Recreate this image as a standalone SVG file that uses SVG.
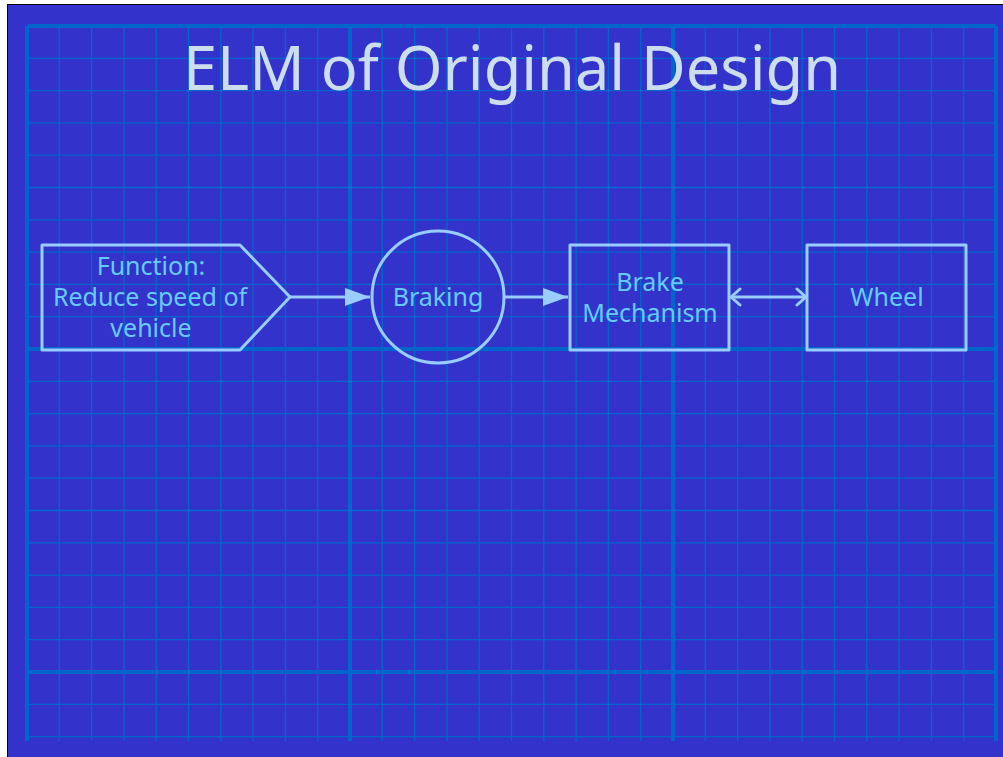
<svg xmlns="http://www.w3.org/2000/svg" width="1003" height="757" viewBox="0 0 1003 757">
<style>
.bg{fill:#3333CC;stroke:#000;stroke-width:1}
.thin{stroke:#0066CC;stroke-width:1.3;fill:none}
.thick{stroke:#0066CC;stroke-width:4;fill:none}
.shape{fill:none;stroke:#99CCFF;stroke-width:3;stroke-linejoin:round}
.conn{stroke:#99CCFF;stroke-width:3;fill:none}
.lbl{font-family:"Noto Sans",sans-serif;font-size:25px;fill:#66CCFF;text-anchor:middle}
.title{font-family:"Noto Sans",sans-serif;font-size:62px;fill:#CCDDEE;text-anchor:middle}
</style>
<defs>
<marker id="fillArrow" markerUnits="userSpaceOnUse" markerWidth="26" markerHeight="18" refX="25" refY="9" orient="auto">
<path d="M0,0 L25,9 L0,18 Z" fill="#99CCFF"/>
</marker>
<marker id="openArrow" markerUnits="userSpaceOnUse" markerWidth="14" markerHeight="20" refX="11" refY="10" orient="auto-start-reverse">
<path d="M2,2 L11,10 L2,18" fill="none" stroke="#99CCFF" stroke-width="3" stroke-linecap="round" stroke-linejoin="round"/>
</marker>
</defs>
<rect x="7.5" y="4.5" width="1000" height="760" class="bg"/>
<g id="grid">
<path class="thin" d="M59.3,26V741M91.6,26V741M123.9,26V741M156.2,26V741M188.5,26V741M220.8,26V741M253.1,26V741M285.4,26V741M317.7,26V741M382.3,26V741M414.6,26V741M446.9,26V741M479.2,26V741M511.5,26V741M543.8,26V741M576.1,26V741M608.4,26V741M640.7,26V741M705.3,26V741M737.6,26V741M769.9,26V741M802.2,26V741M834.5,26V741M866.8,26V741M899.1,26V741M931.4,26V741M963.7,26V741"/>
<path class="thin" d="M27,58.3H996M27,90.6H996M27,122.9H996M27,155.2H996M27,187.5H996M27,219.8H996M27,252.1H996M27,284.4H996M27,316.7H996M27,381.3H996M27,413.6H996M27,445.9H996M27,478.2H996M27,510.5H996M27,542.8H996M27,575.1H996M27,607.4H996M27,639.7H996M27,704.3H996M27,736.6H996"/>
<path class="thick" d="M27,26V741M350,26V741M673,26V741M996,26V741M27,26H996M27,349H996M27,672H996"/>
</g>
<text class="title" x="512" y="90" textLength="658" lengthAdjust="spacingAndGlyphs">ELM of Original Design</text>
<g id="connectors">
<path class="conn" d="M290,297H370" marker-end="url(#fillArrow)"/>
<path class="conn" d="M504,297H568" marker-end="url(#fillArrow)"/>
<path class="conn" d="M731,297H806" marker-start="url(#openArrow)" marker-end="url(#openArrow)"/>
</g>
<g id="function">
<path class="shape" d="M42,245H240L290,297L240,350H42Z"/>
<text class="lbl" x="151" y="275">Function:</text>
<text class="lbl" x="150" y="306">Reduce speed of</text>
<text class="lbl" x="151" y="337">vehicle</text>
</g>
<g id="braking">
<circle class="shape" cx="438" cy="297" r="66"/>
<text class="lbl" x="438" y="306">Braking</text>
</g>
<g id="brake-mechanism">
<rect class="shape" x="570" y="245" width="159" height="105"/>
<text class="lbl" x="650" y="291">Brake</text>
<text class="lbl" x="650" y="322">Mechanism</text>
</g>
<g id="wheel">
<rect class="shape" x="807" y="245" width="159" height="105"/>
<text class="lbl" x="887" y="306">Wheel</text>
</g>
</svg>
